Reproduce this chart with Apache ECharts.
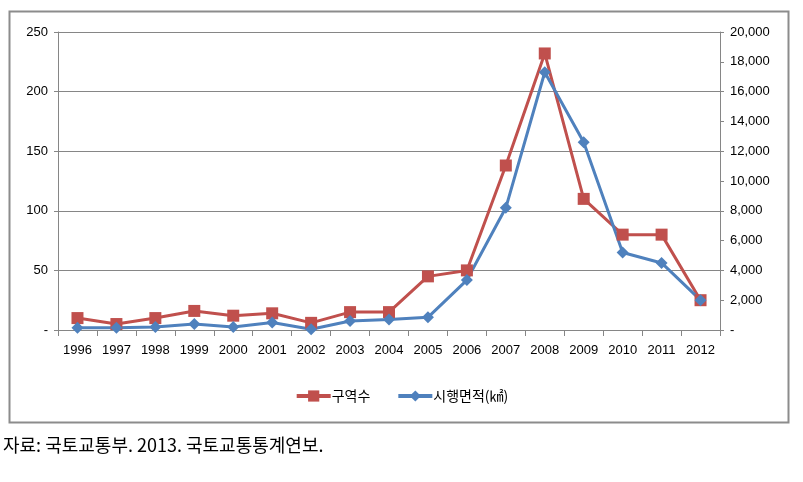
<!DOCTYPE html>
<html><head><meta charset="utf-8">
<script src="https://cdn.jsdelivr.net/npm/echarts@6/dist/echarts.min.js"></script>
<style>html,body{margin:0;padding:0;background:#fff}#c{width:803px;height:482px}</style>
</head><body><div id="c"></div>
<script>
const years = ['1996','1997','1998','1999','2000','2001','2002','2003','2004','2005','2006','2007','2008','2009','2010','2011','2012'];
const districts = [10,5,10,16,12,14,6,15,15,45,50,138,232,110,80,80,25];
const areas = [150,150,200,400,200,500,50,600,700,850,3350,8200,17300,12600,5200,4500,2000];
const leftTicks = {min:0, max:250, interval:50};
const rightTicks = {min:0, max:20000, interval:2000};
const names = ['구역수','시행면적(㎢)'];
const caption = '자료: 국토교통부. 2013. 국토교통통계연보.';

const chart = echarts.init(document.getElementById('c'));
const lab = {color:'#000', fontSize:13, fontFamily:'Liberation Sans Narrow, Arial Narrow, Liberation Sans, sans-serif'};
chart.setOption({
  animation:false,
  graphic:[
    {type:'rect', shape:{x:9.5,y:11.5,width:779,height:411}, style:{fill:'none', stroke:'#8c8c8c', lineWidth:2}, z:-1},
    {type:'text', left:3, top:436, style:{text:caption, fontSize:18, fill:'#000', fontFamily:'Noto Sans CJK KR, sans-serif'}}
  ],
  grid:{left:58, right:83, top:32, bottom:152},
  legend:{bottom:74, left:'center', itemWidth:34, itemHeight:14, itemGap:26,
    lineStyle:{width:4},
    textStyle:{color:'#000', fontSize:14, padding:[0,0,0,-4], fontFamily:'Noto Sans CJK KR, sans-serif'},
    data:[names[0], names[1]]},
  xAxis:{type:'category', data:years, boundaryGap:true,
    axisLine:{lineStyle:{color:'#868686'}},
    axisTick:{show:true, length:6, interval:0, lineStyle:{color:'#868686'}},
    axisLabel:Object.assign({margin:14, interval:0}, lab)},
  yAxis:[
    {type:'value', min:leftTicks.min, max:leftTicks.max, interval:leftTicks.interval,
     axisLine:{show:true, lineStyle:{color:'#868686'}},
     axisTick:{show:true, length:4, lineStyle:{color:'#868686'}},
     splitLine:{lineStyle:{color:'#868686'}},
     axisLabel:Object.assign({margin:10, formatter:v=>v===0?'-':String(v)}, lab)},
    {type:'value', min:rightTicks.min, max:rightTicks.max, interval:rightTicks.interval, position:'right',
     axisLine:{show:true, lineStyle:{color:'#868686'}},
     axisTick:{show:true, length:4, lineStyle:{color:'#868686'}},
     splitLine:{show:false},
     axisLabel:Object.assign({margin:10, formatter:v=>v===0?'-':v.toLocaleString('en-US')}, lab)}
  ],
  series:[
    {name:names[0], type:'line', yAxisIndex:0, data:districts, symbol:'rect', symbolSize:12,
     lineStyle:{color:'#C0504D', width:3}, itemStyle:{color:'#C0504D'}},
    {name:names[1], type:'line', yAxisIndex:1, data:areas, symbol:'diamond', symbolSize:12,
     lineStyle:{color:'#4F81BD', width:3}, itemStyle:{color:'#4F81BD'}}
  ]
});
</script></body></html>
